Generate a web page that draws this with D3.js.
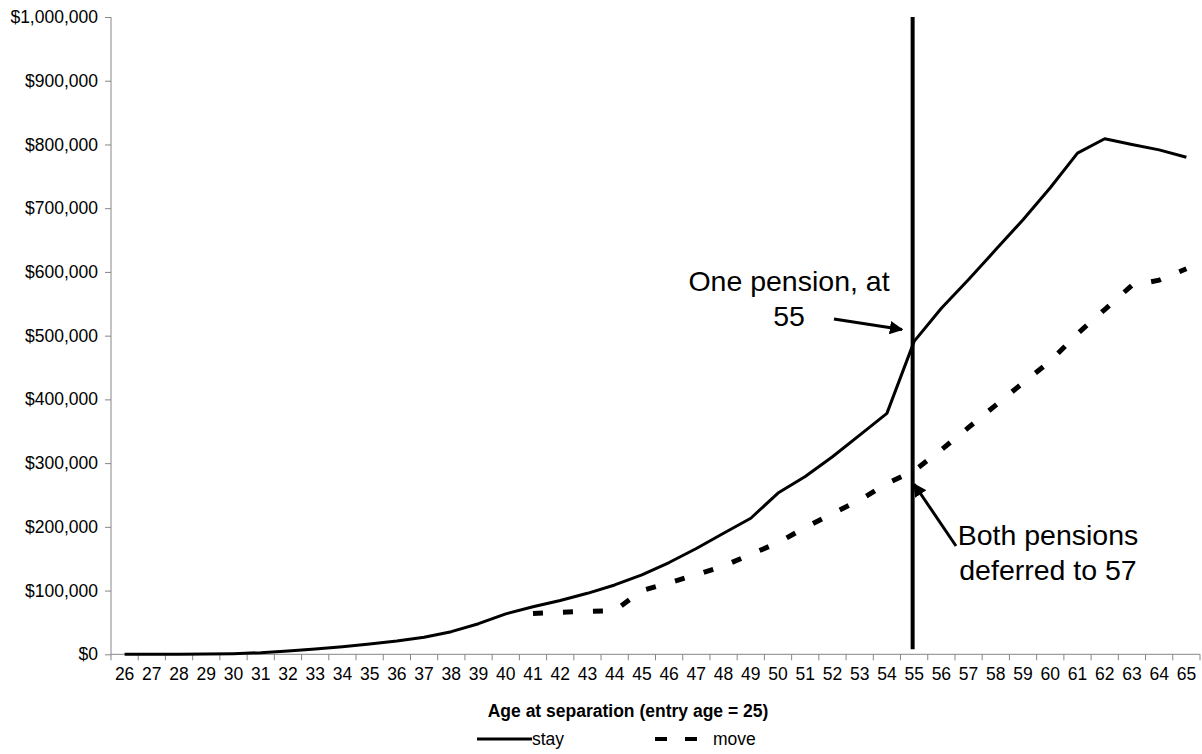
<!DOCTYPE html>
<html>
<head>
<meta charset="utf-8">
<script src="https://cdn.jsdelivr.net/npm/d3@7"></script>
<style>
  html, body { margin: 0; padding: 0; background: #ffffff; }
  svg { display: block; font-family: "Liberation Sans", Arial, sans-serif; }
</style>
</head>
<body>
<svg id="chart" width="1202" height="754"></svg>
<script>
const ages = [26,27,28,29,30,31,32,33,34,35,36,37,38,39,40,41,42,43,44,45,46,47,48,49,50,51,52,53,54,55,56,57,58,59,60,61,62,63,64,65];
const stay = [0,0,0,300,1000,2600,5200,8300,12000,16200,20900,26700,35500,48000,63500,74500,84500,95700,108800,124500,144000,166000,190000,213500,253000,279000,310000,344000,378000,491000,543000,588000,635000,682000,732000,786500,809000,800000,791500,780000];
const moveAges = [41,42,43,44,45,46,47,48,49,50,51,52,53,54,55,56,57,58,59,60,61,62,63,64,65];
const move = [64000,66000,67500,68500,100000,112000,125000,138500,157000,175000,199000,221000,242000,268000,288000,321000,356000,391000,426000,460000,503000,541000,579000,587000,605000];
const yTicks = [0,100000,200000,300000,400000,500000,600000,700000,800000,900000,1000000];
const markerAge = 55;
const xTitle = "Age at separation (entry age = 25)";
const seriesNames = ["stay", "move"];
const note1 = ["One pension, at", "55"];
const note2 = ["Both pensions", "deferred to 57"];

const svg = d3.select("#chart");
const pLeft = 111, pRight = 1200, pTop = 17, pBottom = 654.3;
const fs = 17.5;

const x = d3.scaleBand().domain(ages).range([pLeft, pRight]).padding(0);
const xc = a => x(a) + x.bandwidth() / 2;
const y = d3.scaleLinear().domain([0, 1000000]).range([pBottom, pTop]);

const axisColor = "#868686";
const fmt = v => "$" + d3.format(",")(v);

// Y axis
const yAxis = svg.append("g").attr("transform", `translate(${pLeft},0)`)
  .call(d3.axisLeft(y).tickValues(yTicks).tickFormat(fmt).tickSize(6).tickPadding(7));
yAxis.select(".domain").attr("stroke", axisColor).attr("d", `M0,${pTop}V${pBottom}`);
yAxis.selectAll(".tick line").attr("stroke", axisColor);
yAxis.selectAll(".tick text").attr("font-size", fs).attr("fill", "#000")
  .attr("font-family", "'Liberation Sans', Arial, sans-serif");

// X axis labels (centered on categories)
const xAxis = svg.append("g").attr("transform", `translate(0,${pBottom})`)
  .call(d3.axisBottom(x).tickSize(0).tickPadding(13));
xAxis.select(".domain").attr("stroke", axisColor).attr("d", `M${pLeft},0H${pRight}`);
xAxis.selectAll(".tick text").attr("font-size", fs).attr("fill", "#000")
  .attr("font-family", "'Liberation Sans', Arial, sans-serif");

// X tick marks at category boundaries
const bounds = ages.map(a => x(a)).concat([x(ages[ages.length - 1]) + x.bandwidth()]);
svg.append("g").selectAll("line").data(bounds).join("line")
  .attr("x1", d => d).attr("x2", d => d)
  .attr("y1", pBottom).attr("y2", pBottom + 6)
  .attr("stroke", axisColor).attr("stroke-width", 1);

// Axis title
svg.append("text").attr("x", 628).attr("y", 717).attr("text-anchor", "middle")
  .attr("font-size", fs).attr("font-weight", "bold").text(xTitle);

// Vertical marker line at 55
svg.append("line")
  .attr("x1", xc(markerAge) - 1.5).attr("x2", xc(markerAge) - 1.5)
  .attr("y1", pTop).attr("y2", pBottom - 5)
  .attr("stroke", "#000").attr("stroke-width", 4);

// Lines
const line = d3.line().x(d => xc(d[0])).y(d => y(d[1]));
svg.append("path").datum(ages.map((a, i) => [a, stay[i]]))
  .attr("d", line).attr("fill", "none").attr("stroke", "#000")
  .attr("stroke-width", 3).attr("stroke-linejoin", "round");
svg.append("path").datum(moveAges.map((a, i) => [a, move[i]]))
  .attr("d", line).attr("fill", "none").attr("stroke", "#000")
  .attr("stroke-width", 5).attr("stroke-dasharray", "10,20");

// Arrow marker
const defs = svg.append("defs");
defs.append("marker").attr("id", "arr").attr("viewBox", "0 0 10 10")
  .attr("refX", 9).attr("refY", 5).attr("markerWidth", 4.5).attr("markerHeight", 4.5)
  .attr("orient", "auto").attr("markerUnits", "strokeWidth")
  .append("path").attr("d", "M0,0L10,5L0,10Z").attr("fill", "#000");

// Annotation 1
const a1 = svg.append("text").attr("font-size", 28.5).attr("text-anchor", "middle");
a1.append("tspan").attr("x", 789).attr("y", 291).text(note1[0]);
a1.append("tspan").attr("x", 789).attr("y", 326).text(note1[1]);
svg.append("line").attr("x1", 834).attr("y1", 319).attr("x2", 902).attr("y2", 329.5)
  .attr("stroke", "#000").attr("stroke-width", 3).attr("marker-end", "url(#arr)");

// Annotation 2
const a2 = svg.append("text").attr("font-size", 28.5).attr("text-anchor", "middle");
a2.append("tspan").attr("x", 1048).attr("y", 545).text(note2[0]);
a2.append("tspan").attr("x", 1048).attr("y", 580).text(note2[1]);
svg.append("line").attr("x1", 956).attr("y1", 546).attr("x2", 914).attr("y2", 484)
  .attr("stroke", "#000").attr("stroke-width", 3).attr("marker-end", "url(#arr)");

// Legend
const ly = 739;
svg.append("line").attr("x1", 477).attr("x2", 532).attr("y1", ly).attr("y2", ly)
  .attr("stroke", "#000").attr("stroke-width", 3);
svg.append("text").attr("x", 532).attr("y", ly + 6).attr("font-size", fs).text(seriesNames[0]);
svg.append("line").attr("x1", 655).attr("x2", 697).attr("y1", ly).attr("y2", ly)
  .attr("stroke", "#000").attr("stroke-width", 4).attr("stroke-dasharray", "12,18");
svg.append("text").attr("x", 713).attr("y", ly + 6).attr("font-size", fs).text(seriesNames[1]);
</script>
</body>
</html>
